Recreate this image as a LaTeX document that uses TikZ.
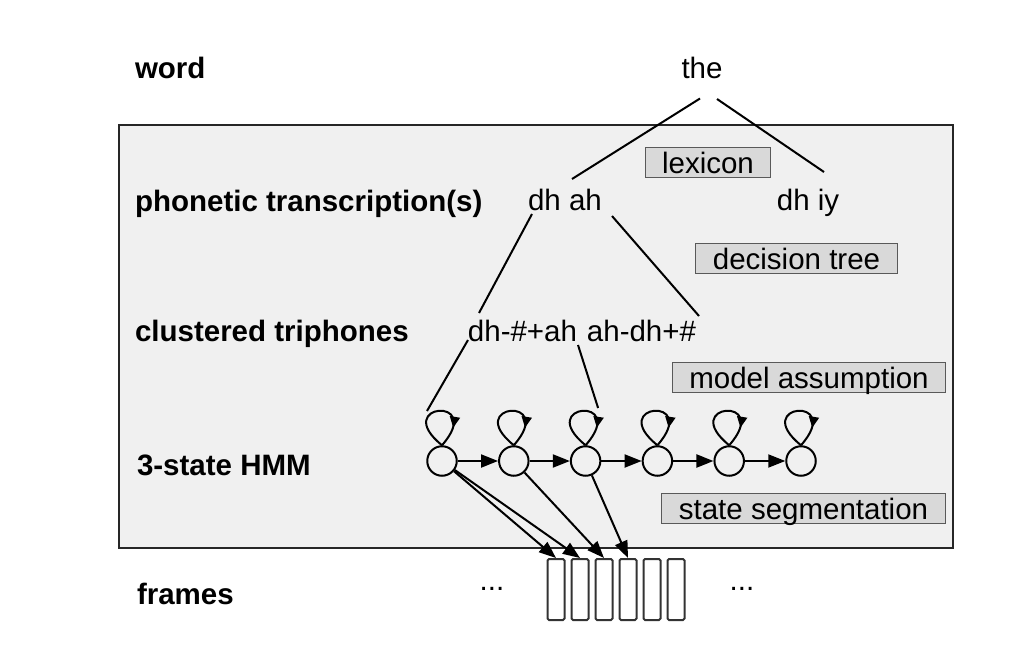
\documentclass[tikz,border=0pt]{standalone}
\usepackage{fontspec}
\setmainfont{Liberation Sans}
\usetikzlibrary{
    arrows.meta,
    calc,
    decorations.markings
}
\newcommand{\diagfont}{\fontsize{29.5}{35}\selectfont}
\tikzset{
    % Colors
    panel color/.style={fill=black!6, draw=black!85},
    tag color/.style={fill=black!15, draw=black!65},
    %
    % Nodes
    rowlabel/.style={anchor=base west, inner sep=0pt, font=\diagfont\bfseries},
    phone/.style={anchor=base, inner sep=0pt},
    tag/.style={tag color, line width=1pt, inner xsep=17pt, inner ysep=1pt, text height=25pt, text depth=3pt},
    hmmstate/.style={circle, draw, line width=2pt, minimum size=29.5pt, inner sep=0pt},
    framebox/.style={draw=black!80, line width=2pt, fill=white, rounded corners=1.5pt, minimum width=17pt, minimum height=61pt, inner sep=0pt},
    %
    % Arrows
    arrow tip/.tip={Triangle[length=17pt,width=13pt]},
    loop tip/.tip={Triangle[length=11pt,width=10pt]},
    arr/.style={->,>={arrow tip}},
    midarrow/.style={postaction=decorate,decoration={markings, mark=at position #1 with {\arrow[xshift=3pt]{loop tip}}} },
    midarrow/.default=.5
}
\tikzstyle{every node}=[font=\diagfont]

\begin{document}
\begin{tikzpicture}[x=1pt, y=-1pt, line width=2pt]
    \useasboundingbox[fill=white] (0,0) rectangle (1014,666);
    \draw[panel color, line width=2.5pt] (119,125) rectangle (953,548);

    % row labels
    \node[rowlabel] (wordlabel) at (134,79) {word};
    \node[rowlabel] (phonlabel) at (134,211) {phonetic transcription(s)};
    \node[rowlabel] (trilabel) at (134,341) {clustered triphones};
    \node[rowlabel] (hmmlabel) at (136,475) {3-state HMM};
    \node[rowlabel] (framelabel) at (136,604) {frames};

    % word, phones, triphones
    \node[phone] (the) at (702,78.5) {the};
    \node[phone] (dhah) at (565,210) {dh ah};
    \node[phone] (dhiy) at (808,210) {dh iy};
    \node[phone] (tri1) at (522.5,341) {dh-\#+ah};
    \node[phone] (tri2) at (641.5,341) {ah-dh+\#};

    \node[tag] (lexicon) at (708,162.5) {lexicon};
    \node[tag] (dtree) at (796.5,258) {decision tree};
    \node[tag] (assumption) at (809,377.5) {model assumption};
    \node[tag] (segmentation) at (803.5,508.5) {state segmentation};

    % HMM states with self loops
    \foreach \i in {1,...,6} {
        \node[hmmstate] (s\i) at ({442+71.8*(\i-1)},461) {};
        \draw[midarrow=.75] (s\i.north) .. controls +(-52,-42) and +(44,-50) .. (s\i.north);
    }
    \foreach \i [count=\j from 2] in {1,...,5}
        \draw[arr] (s\i) -- (s\j);

    \draw ($(the.base)+(-2,20)$) -- ($(dhah.base)+(7,-31)$);
    \draw ($(the.base)+(15,20.5)$) -- ($(dhiy.base)+(16,-38)$);
    \draw ($(dhah.base)+(-33,4)$) -- ($(tri1.base)+(-43.5,-28)$);
    \draw ($(dhah.base)+(47,6)$) -- ($(tri2.base)+(57.5,-25)$);
    \draw ($(tri1.base)+(-54.5,-1)$) -- ($(s1)+(-15,-50)$);
    \draw ($(tri1.base)+(55.5,4)$) -- ($(s3)+(12.5,-53)$);

    % frames
    \foreach \i in {1,...,6}
        \node[framebox] (f\i) at ({556+24*(\i-1)},589.5) {};
    \node[phone] (leftdots) at (492,590) {...};
    \node[phone] (rightdots) at (742,590) {...};

    \draw[arr] (s1) -- (f1.north);
    \draw[arr] (s1) -- (f2.north);
    \draw[arr] (s2) -- (f3.north);
    \draw[arr] (s3) -- (f4.north);
\end{tikzpicture}
\end{document}
